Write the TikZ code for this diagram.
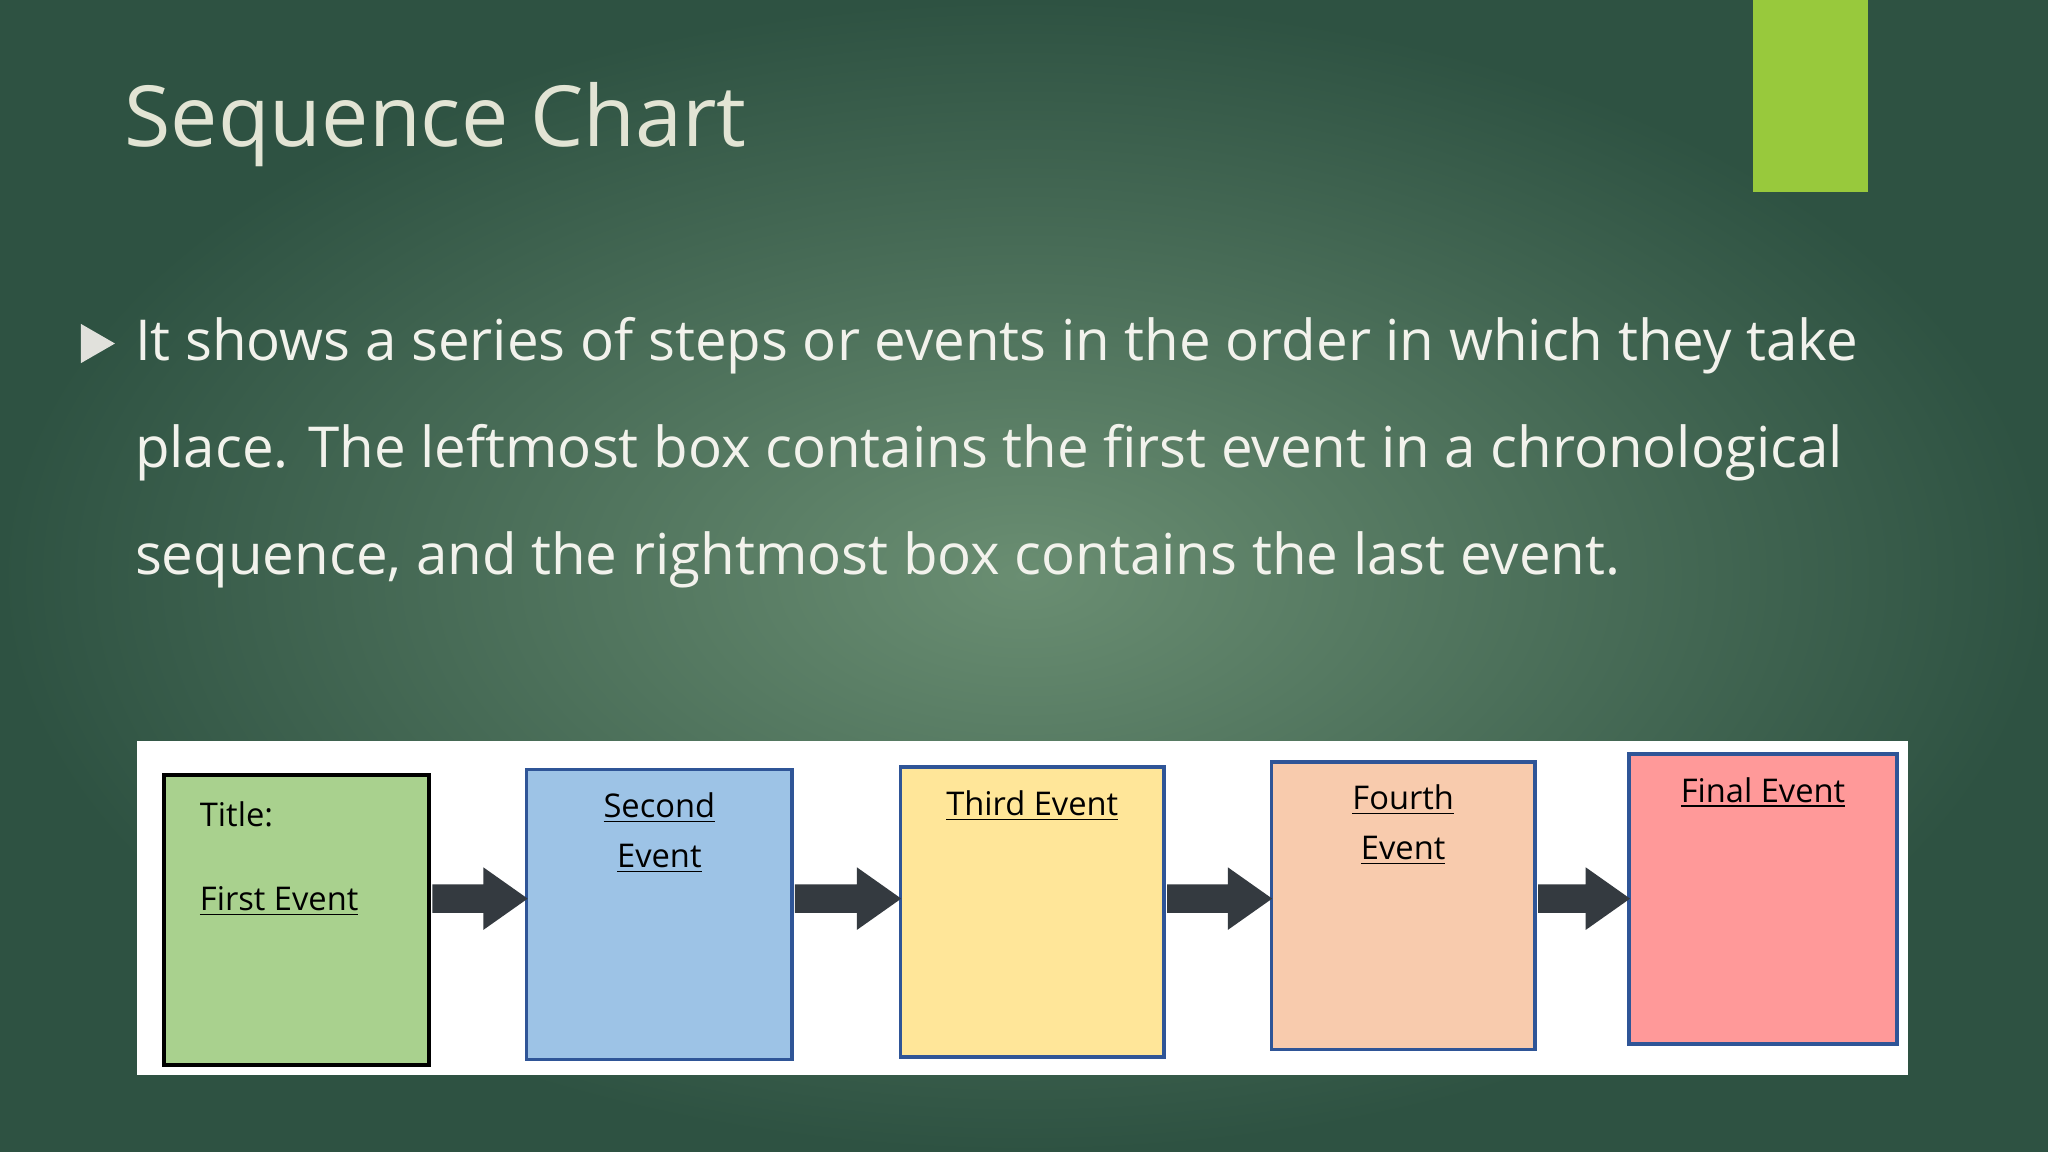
\documentclass[tikz,border=0pt]{standalone}
\usepackage{fontspec}
\setmainfont{Open Sans}
\usetikzlibrary{calc}
\definecolor{bgin}{RGB}{106,142,114}
\definecolor{bgout}{RGB}{46,82,66}
\definecolor{lime}{RGB}{152,201,60}
\definecolor{txt}{RGB}{242,242,236}
\definecolor{ttl}{RGB}{226,228,212}
\definecolor{arr}{RGB}{52,58,64}
\definecolor{bord}{RGB}{47,85,151}
\tikzset{
  evbox/.style={draw=bord,line width=1.3pt,anchor=north west,inner sep=0pt},
  lbl/.style={font=\fontsize{12.5}{18}\selectfont,text=black,align=center},
  bodytxt/.style={anchor=base west,text=txt,font=\fontsize{21.6}{41}\selectfont,inner sep=0pt},
  blk/.style={fill=arr}
}
\newcommand{\ul}[1]{\underline{#1}}
\begin{document}
\begin{tikzpicture}[x=0.5pt,y=-0.5pt]
\useasboundingbox (0,0) rectangle (1568,882);
\shade[inner color=bgin,outer color=bgout] (0,0) rectangle (1568,882);
\fill[lime] (1342,0) rectangle (1430,147);
\node[anchor=base west,text=ttl,font=\fontsize{32.3}{40}\selectfont,inner sep=0pt] (title) at (95,112) {Sequence Chart};
\fill[txt!85!gray] (62,248) -- (88,263) -- (62,278) -- cycle;
\node[bodytxt] (l1) at (103,276) {It shows a series of steps or events in the order in which they take};
\node[bodytxt] (l2) at (103,358) {place. The leftmost box contains the first event in a chronological};
\node[bodytxt] (l3) at (103,440) {sequence, and the rightmost box contains the last event.};
\fill[white] (105,567) rectangle (1461,823);
\node[evbox,draw=black,line width=1.5pt,fill={rgb,255:red,169;green,209;blue,142},minimum width=101.5pt,minimum height=111pt] (b1) at (124,592) {};
\node[evbox,fill={rgb,255:red,157;green,195;blue,230},minimum width=101.5pt,minimum height=111pt] (b2) at (402,588) {};
\node[evbox,fill={rgb,255:red,255;green,230;blue,153},minimum width=101pt,minimum height=111pt] (b3) at (688,586) {};
\node[evbox,fill={rgb,255:red,248;green,203;blue,173},minimum width=101pt,minimum height=110pt] (b4) at (972,582) {};
\node[evbox,fill={rgb,255:red,255;green,153;blue,153},minimum width=102.5pt,minimum height=111pt] (b5) at (1246,576) {};
\node[lbl,anchor=base west] (t1) at (146,633) {Title:};
\node[lbl,anchor=base west] (t1b) at (146,697) {\ul{First Event}};
\node[lbl,anchor=north] (t2) at ($(b2.north)+(0,12)$) {\ul{Second}\\[1pt]\ul{Event}};
\node[lbl,anchor=north] (t3) at ($(b3.north)+(0,12)$) {\ul{Third Event}};
\node[lbl,anchor=north] (t4) at ($(b4.north)+(0,12)$) {\ul{Fourth}\\[1pt]\ul{Event}};
\node[lbl,anchor=north] (t5) at ($(b5.north)+(0,12)$) {\ul{Final Event}};
\foreach \a/\b in {b1/b2,b2/b3,b3/b4,b4/b5}{
  \fill[blk] ($(\a.east|-0,688)+(1,-11)$) -- ($(\b.west|-0,688)+(-32,-11)$) -- ($(\b.west|-0,688)+(-32,-24)$)
    -- ($(\b.west|-0,688)+(2,0)$) -- ($(\b.west|-0,688)+(-32,24)$) -- ($(\b.west|-0,688)+(-32,11)$)
    -- ($(\a.east|-0,688)+(1,11)$) -- cycle;
}
\end{tikzpicture}
\end{document}
